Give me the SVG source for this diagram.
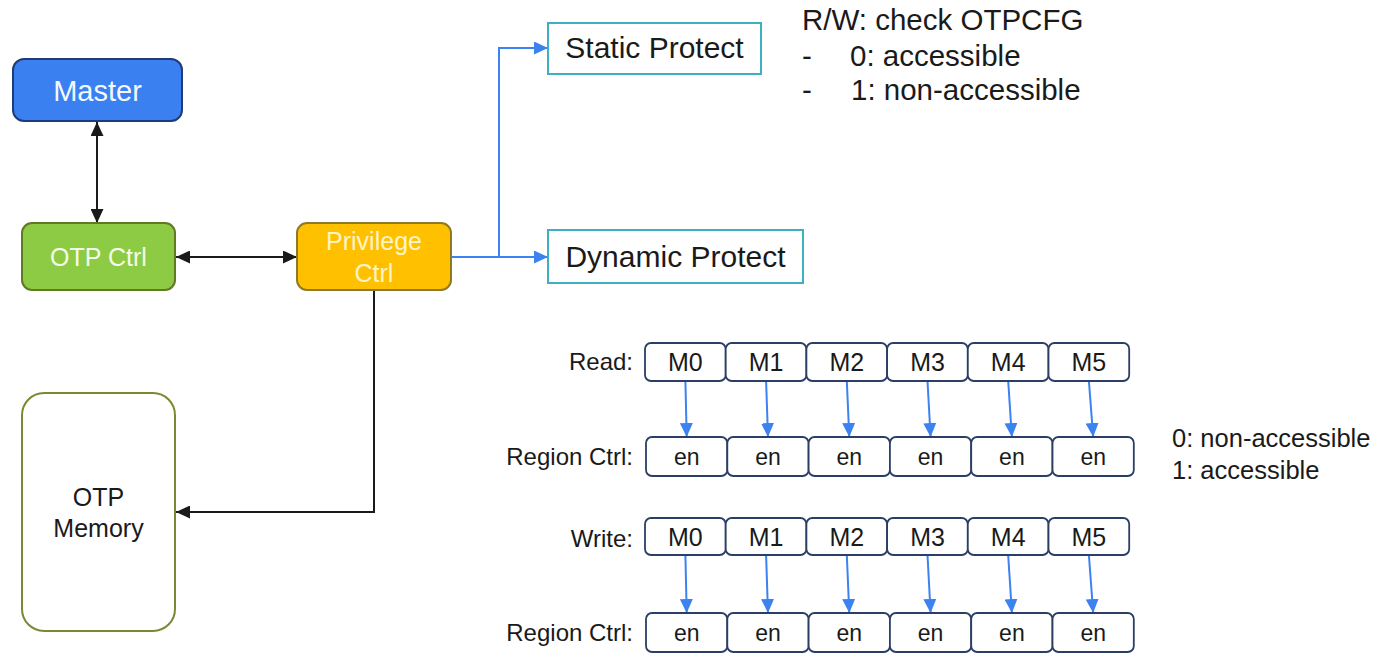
<svg xmlns="http://www.w3.org/2000/svg" width="1382" height="660" viewBox="0 0 1382 660">
<defs>
<style>
text{font-family:"Liberation Sans",Arial,sans-serif;}
.blk{stroke:#1a1a1a;stroke-width:2;fill:none;}
.blu{stroke:#3c82f0;stroke-width:2;fill:none;}
.cell{fill:#fff;stroke:#2b3e66;stroke-width:1.8;}
.prot{fill:#fff;stroke:#3fb0bf;stroke-width:2;}
.lbl{font-size:24px;fill:#1a1a1a;text-anchor:end;}
.ct{font-size:25px;fill:#1a1a1a;text-anchor:middle;}
.en{font-size:23px;fill:#1a1a1a;text-anchor:middle;}
</style>
<marker id="ab" markerUnits="userSpaceOnUse" markerWidth="15" markerHeight="13" refX="14" refY="6.5" orient="auto-start-reverse"><path d="M0,0 L14,6.5 L0,13 z" fill="#1a1a1a"/></marker>
<marker id="au" markerUnits="userSpaceOnUse" markerWidth="15" markerHeight="13" refX="14" refY="6.5" orient="auto-start-reverse"><path d="M0,0 L14,6.5 L0,13 z" fill="#3c82f0"/></marker>
</defs>
<rect width="1382" height="660" fill="#fff"/>

<g id="connectors">
<line class="blk" x1="97" y1="122" x2="97" y2="223" marker-start="url(#ab)" marker-end="url(#ab)"/>
<line class="blk" x1="176" y1="257" x2="297" y2="257" marker-start="url(#ab)" marker-end="url(#ab)"/>
<path class="blk" d="M374 290 V512 H176" marker-end="url(#ab)"/>
<path class="blu" d="M451 257 H548" marker-end="url(#au)"/>
<path class="blu" d="M499 257 V48 H548" marker-end="url(#au)"/>
<line class="blu" x1="685.4" y1="381" x2="686.7" y2="437" marker-end="url(#au)"/>
<line class="blu" x1="766.1" y1="381" x2="768" y2="437" marker-end="url(#au)"/>
<line class="blu" x1="846.8" y1="381" x2="849.3" y2="437" marker-end="url(#au)"/>
<line class="blu" x1="927.5" y1="381" x2="930.6" y2="437" marker-end="url(#au)"/>
<line class="blu" x1="1008.2" y1="381" x2="1011.9" y2="437" marker-end="url(#au)"/>
<line class="blu" x1="1088.9" y1="381" x2="1093.2" y2="437" marker-end="url(#au)"/>
<line class="blu" x1="685.4" y1="555" x2="686.7" y2="613" marker-end="url(#au)"/>
<line class="blu" x1="766.1" y1="555" x2="768" y2="613" marker-end="url(#au)"/>
<line class="blu" x1="846.8" y1="555" x2="849.3" y2="613" marker-end="url(#au)"/>
<line class="blu" x1="927.5" y1="555" x2="930.6" y2="613" marker-end="url(#au)"/>
<line class="blu" x1="1008.2" y1="555" x2="1011.9" y2="613" marker-end="url(#au)"/>
<line class="blu" x1="1088.9" y1="555" x2="1093.2" y2="613" marker-end="url(#au)"/>
</g>

<g id="master">
<rect x="13" y="59" width="169" height="62" rx="11" fill="#3a80f0" stroke="#1e3c78" stroke-width="2"/>
<text x="97.5" y="101" font-size="29" fill="#f4f8ff" text-anchor="middle">Master</text>
</g>
<g id="otp-ctrl">
<rect x="22" y="223" width="153" height="67" rx="10" fill="#8dcb45" stroke="#5f7a22" stroke-width="2"/>
<text x="98.5" y="266" font-size="25" fill="#f4fbe8" text-anchor="middle">OTP Ctrl</text>
</g>
<g id="privilege-ctrl">
<rect x="297" y="223" width="154" height="67" rx="10" fill="#ffc000" stroke="#8c7a2a" stroke-width="2"/>
<text x="374" y="250" font-size="25" fill="#fff4c8" text-anchor="middle">Privilege</text>
<text x="374" y="282" font-size="25" fill="#fff4c8" text-anchor="middle">Ctrl</text>
</g>
<g id="otp-memory">
<rect x="22" y="393" width="153" height="238" rx="22" fill="#fff" stroke="#7a8a30" stroke-width="2"/>
<text x="98.5" y="506" font-size="25" fill="#1a1a1a" text-anchor="middle">OTP</text>
<text x="98.5" y="537" font-size="25" fill="#1a1a1a" text-anchor="middle">Memory</text>
</g>
<g id="static-protect">
<rect class="prot" x="548" y="23" width="213" height="51"/>
<text x="654.5" y="58" font-size="30" fill="#1a1a1a" text-anchor="middle">Static Protect</text>
</g>
<g id="dynamic-protect">
<rect class="prot" x="548" y="230" width="255" height="53"/>
<text x="675.5" y="267" font-size="30" fill="#1a1a1a" text-anchor="middle">Dynamic Protect</text>
</g>
<g id="rw-note" font-size="29.5" fill="#1a1a1a">
<text x="802" y="30">R/W: check OTPCFG</text>
<text x="802" y="66">-</text>
<text x="850" y="66">0: accessible</text>
<text x="802" y="100">-</text>
<text x="851" y="100">1: non-accessible</text>
</g>

<g id="read-row">
<text class="lbl" x="633" y="370">Read:</text>
<rect class="cell" x="645" y="343" width="80.7" height="38" rx="6"/>
<rect class="cell" x="725.7" y="343" width="80.7" height="38" rx="6"/>
<rect class="cell" x="806.4" y="343" width="80.7" height="38" rx="6"/>
<rect class="cell" x="887.1" y="343" width="80.7" height="38" rx="6"/>
<rect class="cell" x="967.8" y="343" width="80.7" height="38" rx="6"/>
<rect class="cell" x="1048.5" y="343" width="80.7" height="38" rx="6"/>
<text class="ct" x="685.4" y="371">M0</text>
<text class="ct" x="766.1" y="371">M1</text>
<text class="ct" x="846.8" y="371">M2</text>
<text class="ct" x="927.5" y="371">M3</text>
<text class="ct" x="1008.2" y="371">M4</text>
<text class="ct" x="1088.9" y="371">M5</text>
</g>
<g id="read-region">
<text class="lbl" x="633" y="465" font-size="25.5">Region Ctrl:</text>
<rect class="cell" x="646" y="437" width="81.3" height="39" rx="6"/>
<rect class="cell" x="727.3" y="437" width="81.3" height="39" rx="6"/>
<rect class="cell" x="808.6" y="437" width="81.3" height="39" rx="6"/>
<rect class="cell" x="889.9" y="437" width="81.3" height="39" rx="6"/>
<rect class="cell" x="971.2" y="437" width="81.3" height="39" rx="6"/>
<rect class="cell" x="1052.5" y="437" width="81.3" height="39" rx="6"/>
<text class="en" x="686.7" y="465">en</text>
<text class="en" x="768" y="465">en</text>
<text class="en" x="849.3" y="465">en</text>
<text class="en" x="930.6" y="465">en</text>
<text class="en" x="1011.9" y="465">en</text>
<text class="en" x="1093.2" y="465">en</text>
</g>
<g id="legend" font-size="25.5" fill="#1a1a1a">
<text x="1172" y="447">0: non-accessible</text>
<text x="1172" y="479">1: accessible</text>
</g>
<g id="write-row">
<text class="lbl" x="633" y="547">Write:</text>
<rect class="cell" x="645" y="518" width="80.7" height="37" rx="6"/>
<rect class="cell" x="725.7" y="518" width="80.7" height="37" rx="6"/>
<rect class="cell" x="806.4" y="518" width="80.7" height="37" rx="6"/>
<rect class="cell" x="887.1" y="518" width="80.7" height="37" rx="6"/>
<rect class="cell" x="967.8" y="518" width="80.7" height="37" rx="6"/>
<rect class="cell" x="1048.5" y="518" width="80.7" height="37" rx="6"/>
<text class="ct" x="685.4" y="546">M0</text>
<text class="ct" x="766.1" y="546">M1</text>
<text class="ct" x="846.8" y="546">M2</text>
<text class="ct" x="927.5" y="546">M3</text>
<text class="ct" x="1008.2" y="546">M4</text>
<text class="ct" x="1088.9" y="546">M5</text>
</g>
<g id="write-region">
<text class="lbl" x="633" y="641" font-size="25.5">Region Ctrl:</text>
<rect class="cell" x="646" y="613" width="81.3" height="39" rx="6"/>
<rect class="cell" x="727.3" y="613" width="81.3" height="39" rx="6"/>
<rect class="cell" x="808.6" y="613" width="81.3" height="39" rx="6"/>
<rect class="cell" x="889.9" y="613" width="81.3" height="39" rx="6"/>
<rect class="cell" x="971.2" y="613" width="81.3" height="39" rx="6"/>
<rect class="cell" x="1052.5" y="613" width="81.3" height="39" rx="6"/>
<text class="en" x="686.7" y="641">en</text>
<text class="en" x="768" y="641">en</text>
<text class="en" x="849.3" y="641">en</text>
<text class="en" x="930.6" y="641">en</text>
<text class="en" x="1011.9" y="641">en</text>
<text class="en" x="1093.2" y="641">en</text>
</g>
</svg>
